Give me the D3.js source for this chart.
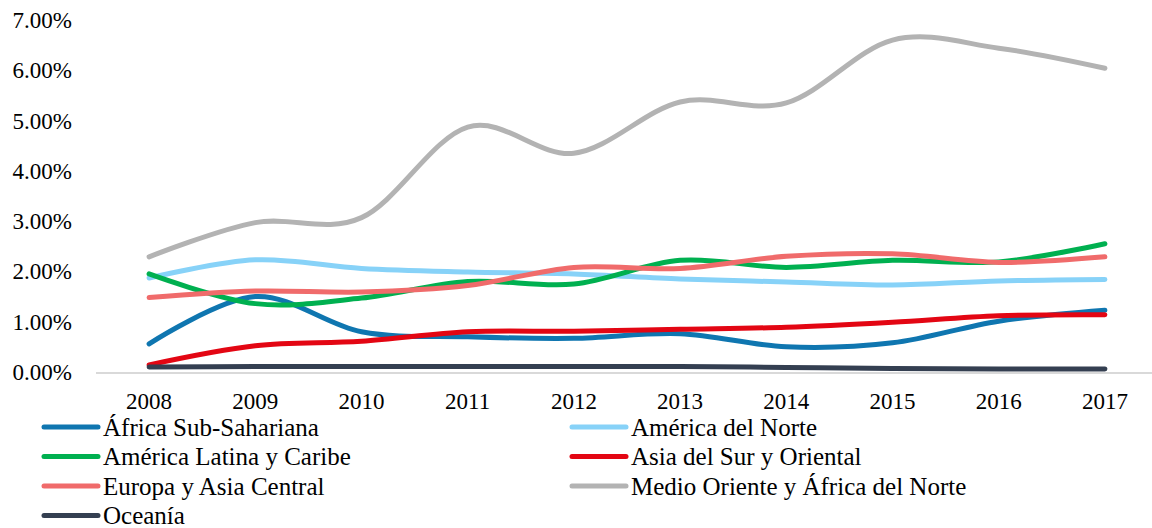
<!DOCTYPE html>
<html><head><meta charset="utf-8">
<script src="https://cdn.jsdelivr.net/npm/d3@7"></script>
<style>
html,body{margin:0;padding:0;background:#fff;}
svg{display:block;}
</style></head>
<body><svg id="chart" width="1152" height="528"></svg>
<script>
const years = ["2008","2009","2010","2011","2012","2013","2014","2015","2016","2017"];
const yTicks = [0,1,2,3,4,5,6,7];
const seriesNames = ["África Sub-Sahariana","América del Norte","América Latina y Caribe","Asia del Sur y Oriental","Europa y Asia Central","Medio Oriente y África del Norte","Oceanía"];
const seriesColors = ["#0F76B0","#87D2F8","#00B050","#E30613","#F06B6B","#B3B3B3","#343F51"];
const africaSub = [0.56,1.50,0.80,0.70,0.67,0.76,0.50,0.58,1.01,1.23];
const americaNorte = [1.87,2.23,2.06,1.99,1.95,1.85,1.79,1.73,1.81,1.84];
const americaLatina = [1.95,1.36,1.47,1.80,1.75,2.22,2.08,2.22,2.19,2.55];
const asiaSur = [0.14,0.52,0.61,0.80,0.81,0.85,0.89,0.99,1.12,1.14];
const europaAsia = [1.48,1.61,1.59,1.72,2.08,2.06,2.30,2.35,2.18,2.29];
const medioOriente = [2.29,2.97,3.07,4.87,4.35,5.37,5.35,6.60,6.44,6.04];
const oceania = [0.10,0.11,0.11,0.11,0.11,0.11,0.09,0.07,0.06,0.06];
const seriesValues = [africaSub,americaNorte,americaLatina,asiaSur,europaAsia,medioOriente,oceania];

const FONT = '"Liberation Serif", "Times New Roman", serif';
const svg = d3.select("#chart");
const x = d3.scaleBand().domain(years).range([96,1158]);
const y = d3.scaleLinear().domain([0,7]).range([372,20]);
const pct = d => d3.format(".2f")(d) + "%";

// y tick labels
svg.append("g").selectAll("text").data(yTicks).join("text")
  .attr("x",72).attr("y",d=>y(d)).attr("dy","0.35em").attr("text-anchor","end").attr("fill","#000")
  .style("font-family",FONT).style("font-size","23px").text(pct);

// x baseline
svg.append("line").attr("x1",96).attr("x2",1152).attr("y1",y(0)+1).attr("y2",y(0)+1)
  .attr("stroke","#D9D9D9").attr("stroke-width",2);

// x labels
svg.append("g").selectAll("text").data(years).join("text")
  .attr("x",d=>x(d)+x.bandwidth()/2).attr("y",y(0)+29).attr("dy","0.35em").attr("text-anchor","middle").attr("fill","#000")
  .style("font-family",FONT).style("font-size","23px").text(d=>d);

const line = d3.line().x((d,i)=>x(years[i])+x.bandwidth()/2).y(d=>y(d)).curve(d3.curveCardinal.tension(0));
seriesValues.forEach((vals,i)=>{
  svg.append("path").datum(vals).attr("d",line).attr("fill","none")
    .attr("stroke",seriesColors[i]).attr("stroke-width",5).attr("stroke-linecap","round").attr("stroke-linejoin","round");
});

// legend
const legendRows = [427,456.5,486,515.5];
const lg = svg.append("g");
seriesNames.forEach((name,i)=>{
  const col = i%2, row = Math.floor(i/2);
  const lx = col===0?44:572;
  const ly = legendRows[row];
  lg.append("line").attr("x1",lx).attr("x2",lx+54).attr("y1",ly).attr("y2",ly)
    .attr("stroke",seriesColors[i]).attr("stroke-width",5).attr("stroke-linecap","round");
  lg.append("text").attr("x",lx+59).attr("y",ly).attr("dy","0.35em").attr("fill","#000")
    .style("font-family",FONT).style("font-size","25px").text(name);
});
</script></body></html>
